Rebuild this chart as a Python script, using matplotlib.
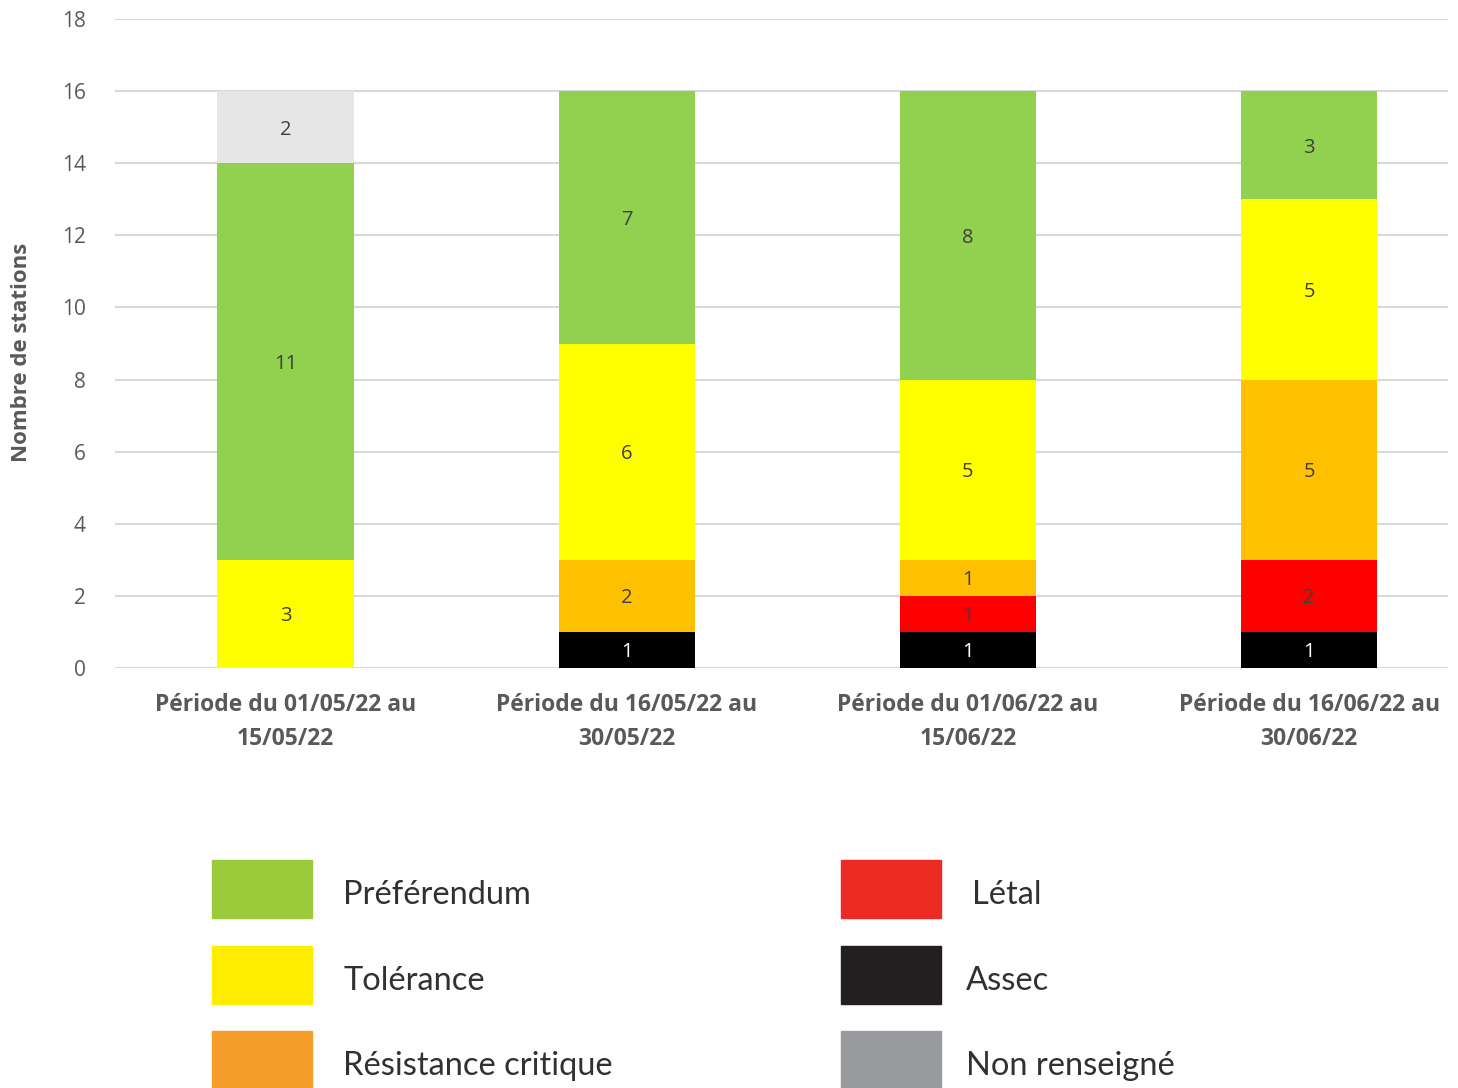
import numpy as np
import matplotlib.pyplot as plt
from matplotlib.patches import Rectangle

periodes = ["Période du 01/05/22 au\n15/05/22", "Période du 16/05/22 au\n30/05/22",
            "Période du 01/06/22 au\n15/06/22", "Période du 16/06/22 au\n30/06/22"]

# empilement du bas vers le haut
assec = [0, 1, 1, 1]
letal = [0, 0, 1, 2]
resistance = [0, 2, 1, 5]
tolerance = [3, 6, 5, 5]
preferendum = [11, 7, 8, 3]
non_renseigne = [2, 0, 0, 0]

series = [("Assec", assec, "#000000", "white"),
          ("Létal", letal, "#FF0000", "#404040"),
          ("Résistance critique", resistance, "#FFC000", "#404040"),
          ("Tolérance", tolerance, "#FFFF00", "#404040"),
          ("Préférendum", preferendum, "#92D050", "#404040"),
          ("Non renseigné", non_renseigne, "#E7E6E6", "#404040")]

legend_items = [("Préférendum", "#9BCB3B"), ("Tolérance", "#FFED00"), ("Résistance critique", "#F59E2A"),
                ("Létal", "#EE2A24"), ("Assec", "#231F20"), ("Non renseigné", "#999A9E")]

W, H = 1458, 1088
fig = plt.figure(figsize=(W / 100, H / 100), dpi=100)
ax = fig.add_axes([115 / W, 1 - 668 / H, (1448 - 115) / W, (668 - 19) / H])

x = np.arange(len(periodes))
bottom = np.zeros(len(periodes))
for name, vals, col, tcol in series:
    vals = np.array(vals, dtype=float)
    bars = ax.bar(x, vals, 0.4, bottom=bottom, color=col, zorder=3)
    for xi, b, v in zip(x, bottom, vals):
        if v > 0:
            ax.text(xi, b + v / 2 - 0.07, "%d" % v, ha="center", va="center", fontsize=14.5,
                    color=tcol, family="Open Sans", zorder=4)
    bottom += vals

ax.set_ylim(0, 18)
ax.set_xlim(-0.5, 3.407)
ax.set_yticks(range(0, 19, 2))
ax.yaxis.grid(True, color="#D9D9D9", lw=1.5, zorder=0)
ax.set_axisbelow(True)
for s in ax.spines.values():
    s.set_visible(False)
ax.tick_params(length=0)
ax.tick_params(axis="y", labelsize=15, labelcolor="#595959", pad=21)
ax.set_xticks(x)
ax.set_xticklabels(periodes, fontsize=16.5, fontweight="bold", color="#595959",
                   family="Open Sans", linespacing=1.55)
ax.tick_params(axis="x", pad=18)
for lab in ax.get_yticklabels():
    lab.set_family("Open Sans")

fig.text(22 / W, 1 - 352 / H, "Nombre de stations", rotation=90, ha="center", va="center",
         fontsize=16, fontweight="bold", color="#595959", family="Open Sans")

# légende (image séparée dans l'original)
col_x = [212, 841]
txt_x = [343, 966]
row_y = [889, 975, 1060]
for i, (name, col) in enumerate(legend_items):
    c, r = i // 3, i % 3
    yc = row_y[r]
    fig.patches.append(Rectangle((col_x[c] / W, 1 - (yc + 29) / H), 100 / W, 58 / H,
                                 transform=fig.transFigure, color=col, figure=fig))
    tx = txt_x[c] + (6 if name == "Létal" else 0)
    fig.text(tx / W, 1 - (yc + 6) / H, name, ha="left", va="center", fontsize=23.5,
             color="#333031", family="Lato", fontweight="normal")

fig.savefig("out.png", dpi=100)
